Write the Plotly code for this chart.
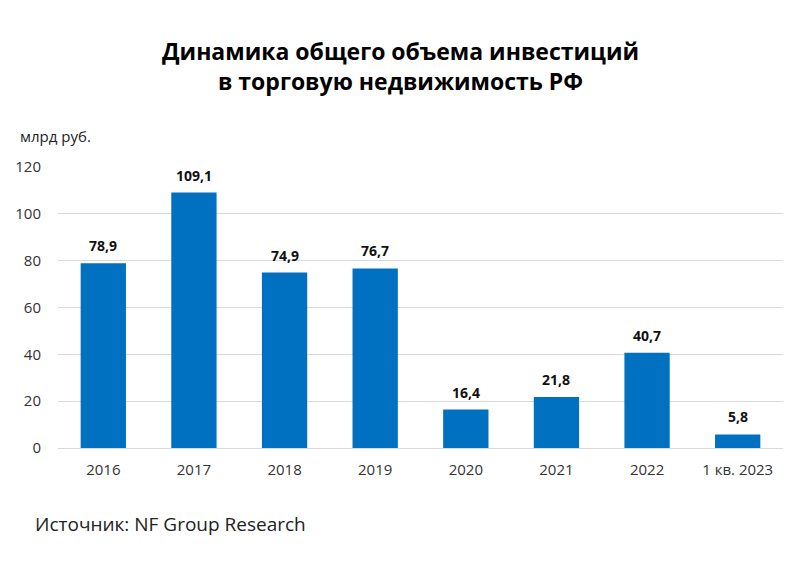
import plotly.graph_objects as go

categories = ["2016", "2017", "2018", "2019", "2020", "2021", "2022", "1 кв. 2023"]
values = [78.9, 109.1, 74.9, 76.7, 16.4, 21.8, 40.7, 5.8]
y_ticks = [0, 20, 40, 60, 80, 100, 120]

# page has an 8px body margin; layout below is in page pixels
OFF = 8
PLOT_L, PLOT_R, PLOT_T, PLOT_B = 58, 783, 167, 448
W, H = 800, 567
plot_w = PLOT_R - PLOT_L
plot_h = PLOT_B - PLOT_T


def px(x, y):
    return (x - PLOT_L) / plot_w, (PLOT_B - y) / plot_h


def fmt(v):
    return f"{v:.1f}".replace(".", ",")


fig = go.Figure()
fig.add_trace(go.Bar(
    x=categories, y=values,
    marker=dict(color="#0070C0", line=dict(width=0)),
    width=0.5,
    hoverinfo="skip",
))

for i, v in enumerate(values):
    fig.add_annotation(
        x=i, y=v, xref="x", yref="y", text="<b>" + fmt(v) + "</b>",
        showarrow=False, yanchor="bottom", yshift=6,
        font=dict(family="Open Sans", size=14, color="#111111"),
    )

tx, ty = px(400, 66)
fig.add_annotation(
    x=tx, y=ty, xref="paper", yref="paper", xanchor="center", yanchor="middle",
    text="<b>Динамика общего объема инвестиций<br>в торговую недвижимость РФ</b>",
    showarrow=False, align="center",
    font=dict(family="Open Sans", size=23, color="#000000"),
)

ux, uy = px(18, 136)
fig.add_annotation(
    x=ux, y=uy, xref="paper", yref="paper", xanchor="left", yanchor="middle",
    text="млрд руб.", showarrow=False,
    font=dict(family="Open Sans", size=15, color="#222222"),
)

sx, sy = px(33, 524)
fig.add_annotation(
    x=sx, y=sy, xref="paper", yref="paper", xanchor="left", yanchor="middle",
    text="Источник: NF Group Research", showarrow=False,
    font=dict(family="Open Sans", size=19, color="#222222"),
)

fig.update_layout(
    width=W, height=H,
    paper_bgcolor="white", plot_bgcolor="white",
    margin=dict(l=PLOT_L - OFF, r=W - (PLOT_R - OFF), t=PLOT_T - OFF, b=H - (PLOT_B - OFF)),
    showlegend=False,
)

fig.update_xaxes(
    type="category", range=[-0.5, len(categories) - 0.5], automargin=False,
    showgrid=False, showline=True, linecolor="#d9d9d9", linewidth=1,
    ticks="", tickfont=dict(family="Open Sans", size=15, color="#333333"),
    ticklabelstandoff=8,
)
fig.update_yaxes(
    range=[0, 120], tickvals=y_ticks, showgrid=True, gridcolor="#d9d9d9",
    gridwidth=1, zeroline=False, showline=False, ticks="", automargin=False,
    tickfont=dict(family="Open Sans", size=15, color="#333333"),
    ticklabelstandoff=16,
)

fig.write_html("out.html")
